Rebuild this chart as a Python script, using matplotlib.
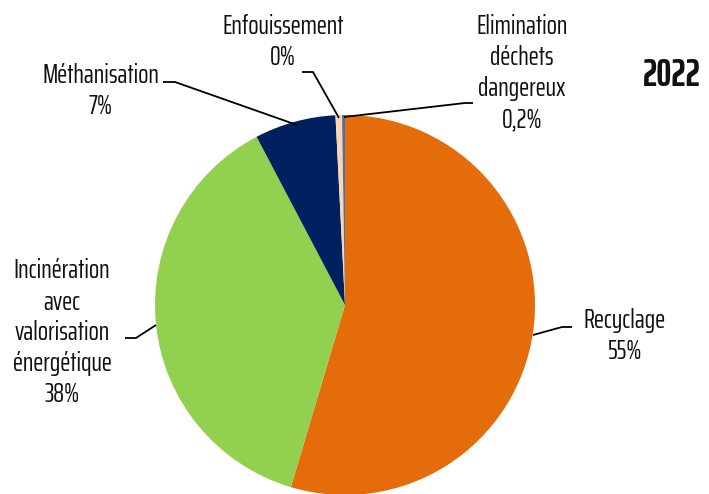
import matplotlib
matplotlib.use("Agg")
import matplotlib.pyplot as plt

categories = ["Recyclage", "Incinération avec valorisation énergétique", "Méthanisation",
              "Enfouissement", "Elimination déchets dangereux"]
values = [54.6, 37.7, 6.9, 0.55, 0.25]
pct_labels = ["55%", "38%", "7%", "0%", "0,2%"]
colors = ["#E46C0A", "#92D050", "#002060", "#FBD4B4", "#4F6FA8"]
year = "2022"

plt.rcParams['font.family'] = ["Saira ExtraCondensed", "DejaVu Sans"]

W, H = 709, 494
fig = plt.figure(figsize=(W / 100, H / 100), dpi=100)
cx, cy, R = 345, 305, 190
ax = fig.add_axes([(cx - R) / W, (H - cy - R) / H, 2 * R / W, 2 * R / H])
ax.pie(values, colors=colors, startangle=90, counterclock=False, radius=1.0,
       wedgeprops=dict(linewidth=0))
ax.set_xlim(-1, 1)
ax.set_ylim(-1, 1)
ax.set_aspect('equal')
ax.axis('off')

def d(px, py):
    return ((px - cx) / R, (cy - py) / R)

def leader(points):
    xs, ys = zip(*[d(*p) for p in points])
    ax.plot(xs, ys, color="black", lw=1.3, clip_on=False, solid_capstyle='butt')

fs = 19.5
def label(px, py, txt):
    fig.text(px / W, 1 - py / H, txt, ha="center", va="center", fontsize=fs,
             linespacing=1.3, color="#111111")

label(283, 42, f"{categories[3]}\n{pct_labels[3]}")
leader([(302, 72), (313, 72), (339, 118)])

label(522, 73, "Elimination\ndéchets\ndangereux\n" + pct_labels[4])
leader([(344, 117), (465, 103), (473, 103)])

label(101, 91, f"{categories[2]}\n{pct_labels[2]}")
leader([(163, 82), (175, 82), (297, 125)])

label(62, 333, "Incinération\navec\nvalorisation\nénergétique\n" + pct_labels[1])
leader([(125, 338), (136, 338), (156, 325)])

label(625, 336, f"{categories[0]}\n{pct_labels[0]}")
leader([(533, 335), (562, 327), (572, 327)])

fig.text(672 / W, 1 - 75 / H, year, ha="center", va="center", fontsize=27,
         fontweight="bold", color="#111111")

fig.savefig("out.png", dpi=100)
